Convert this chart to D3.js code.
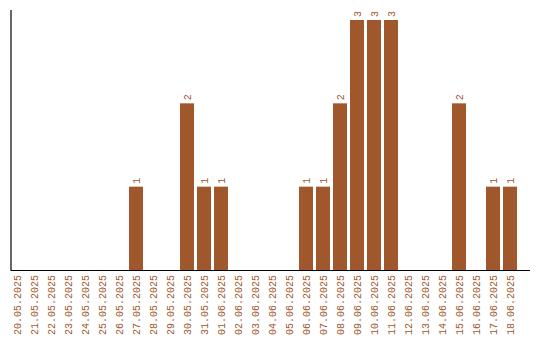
<!DOCTYPE html>
<html><head><meta charset="utf-8">
<script src="https://cdn.jsdelivr.net/npm/d3@7"></script>
<style>body{margin:0;background:#fff}svg{display:block}</style>
</head><body>
<svg id="c" width="540" height="340"></svg>
<script>
const dates = ["20.05.2025","21.05.2025","22.05.2025","23.05.2025","24.05.2025","25.05.2025","26.05.2025","27.05.2025","28.05.2025","29.05.2025","30.05.2025","31.05.2025","01.06.2025","02.06.2025","03.06.2025","04.06.2025","05.06.2025","06.06.2025","07.06.2025","08.06.2025","09.06.2025","10.06.2025","11.06.2025","12.06.2025","13.06.2025","14.06.2025","15.06.2025","16.06.2025","17.06.2025","18.06.2025"];
const counts = [0,0,0,0,0,0,0,1,0,0,2,1,1,0,0,0,0,1,1,2,3,3,3,0,0,0,2,0,1,1];

const color = "#a0572b";
const svg = d3.select("#c");
const x = d3.scaleBand().domain(dates).range([8.5, 518.5]).paddingInner(3/17).paddingOuter(1.5/17);
const y = d3.scaleLinear().domain([0, 3]).range([270, 20]);
const font = "'Liberation Mono', 'Courier New', monospace";

const data = dates.map((d, i) => ({d, v: counts[i]}));

svg.append("g").selectAll("rect").data(data.filter(e => e.v > 0)).join("rect")
  .attr("x", e => x(e.d)).attr("width", x.bandwidth())
  .attr("y", e => y(e.v)).attr("height", e => y(0) - y(e.v))
  .attr("fill", color);

svg.append("g").selectAll("text").data(data.filter(e => e.v > 0)).join("text")
  .attr("transform", e => `translate(${x(e.d) + x.bandwidth()/2},${y(e.v) - 3}) rotate(-90)`)
  .attr("dy", "0.35em")
  .attr("text-anchor", "start")
  .attr("font-family", font).attr("font-size", 10)
  .attr("fill", color)
  .text(e => e.v);

// axes lines
svg.append("line").attr("x1", 11).attr("x2", 11).attr("y1", 10).attr("y2", 270).attr("stroke", "#000").attr("stroke-width", 1.2);
svg.append("line").attr("x1", 10.5).attr("x2", 530).attr("y1", 270.5).attr("y2", 270.5).attr("stroke", "#000").attr("stroke-width", 1.2);

// x labels
svg.append("g").selectAll("text").data(dates).join("text")
  .attr("transform", d => `translate(${x(d) + x.bandwidth()/2},275) rotate(-90)`)
  .attr("dy", "0.35em")
  .attr("text-anchor", "end")
  .attr("font-family", font).attr("font-size", 10)
  .attr("fill", color)
  .text(d => d);
</script>
</body></html>
